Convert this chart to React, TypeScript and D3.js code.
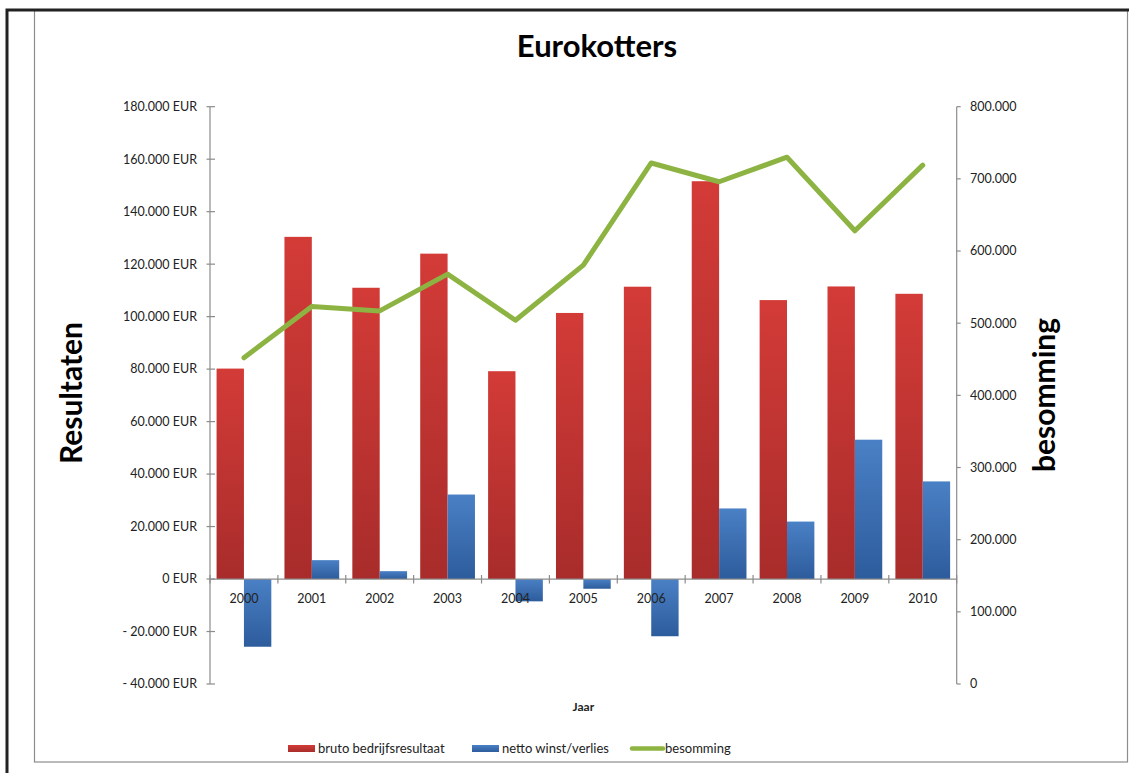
import React from "react";
import * as d3 from "d3";

const years = ["2000","2001","2002","2003","2004","2005","2006","2007","2008","2009","2010"];
const bruto = [80200, 130400, 111000, 124000, 79200, 101400, 111400, 151600, 106300, 111500, 108700];
const netto = [-25800, 7200, 3000, 32200, -8500, -3700, -21800, 26900, 21900, 53100, 37200];
const besomming = [452000, 523000, 517000, 568000, 504000, 580500, 722000, 696000, 730000, 628000, 719000];
const leftTicks = [-40000, -20000, 0, 20000, 40000, 60000, 80000, 100000, 120000, 140000, 160000, 180000];
const rightTicks = [0, 100000, 200000, 300000, 400000, 500000, 600000, 700000, 800000];
const seriesNames = ["bruto bedrijfsresultaat", "netto winst/verlies", "besomming"];

const FONT = "Lato, 'Open Sans', sans-serif";
const AXIS = "#8c8c8c";

function fmt(v: number) {
  const s = Math.abs(v).toString().replace(/\B(?=(\d{3})+(?!\d))/g, ".");
  return s;
}

export default function App() {
  const W = 1129, H = 773;
  const x0 = 210, x1 = 956.7, yTop = 106.7, yBot = 684;
  const x = d3.scaleBand<string>().domain(years).range([x0, x1]).padding(0);
  const inner = d3.scaleBand<number>().domain([0, 1]).range([0, x.bandwidth()]).paddingInner(0).paddingOuter(0.24);
  const yL = d3.scaleLinear().domain([-40000, 180000]).range([yBot, yTop]);
  const yR = d3.scaleLinear().domain([0, 800000]).range([yBot, yTop]);
  const zero = yL(0);
  const line = d3.line<number>()
    .x((_, i) => (x(years[i]) as number) + x.bandwidth() / 2)
    .y((d) => yR(d));

  return (
    <div style={{ position: "absolute", left: 0, top: 0 }}>
      <svg width={W} height={H} style={{ display: "block", fontFamily: FONT }}>
        <defs>
          <linearGradient id="gRed" x1="0" y1="0" x2="0" y2="1">
            <stop offset="0" stopColor="#D33B37" />
            <stop offset="1" stopColor="#A82C2B" />
          </linearGradient>
          <linearGradient id="gBlue" x1="0" y1="0" x2="0" y2="1">
            <stop offset="0" stopColor="#4A80C5" />
            <stop offset="1" stopColor="#2D5C9C" />
          </linearGradient>
        </defs>
        <rect x={0} y={0} width={W} height={H} fill="#fff" />
        <rect x={34.5} y={10.5} width={1093} height={751.5} fill="none" stroke={AXIS} strokeWidth={1.2} />
        <path d={`M7,${H} V10 H${W}`} fill="none" stroke="#222" strokeWidth={3} />

        <text x={597} y={57} textAnchor="middle" fontSize={31} fontWeight="bold" fill="#000">Eurokotters</text>

        {/* bars */}
        {years.map((yr, i) => {
          const bx = x(yr) as number;
          const vb = bruto[i], vn = netto[i];
          return (
            <g key={yr}>
              <rect x={bx + (inner(0) as number)} y={Math.min(yL(vb), zero)} width={inner.bandwidth()}
                height={Math.abs(yL(vb) - zero)} fill="url(#gRed)" />
              <rect x={bx + (inner(1) as number)} y={Math.min(yL(vn), zero)} width={inner.bandwidth()}
                height={Math.abs(yL(vn) - zero)} fill="url(#gBlue)" />
            </g>
          );
        })}

        {/* left axis */}
        <line x1={x0} x2={x0} y1={yTop} y2={yBot} stroke={AXIS} strokeWidth={1.2} />
        {leftTicks.map((t) => (
          <g key={t}>
            <line x1={x0 - 3.5} x2={x0 + 5} y1={yL(t)} y2={yL(t)} stroke={AXIS} strokeWidth={1.2} />
            <text x={197} y={yL(t)} dy="0.35em" textAnchor="end" fontSize={12.5} fill="#222">
              {(t < 0 ? "- " : "") + fmt(t) + " EUR"}
            </text>
          </g>
        ))}

        {/* right axis */}
        <line x1={x1} x2={x1} y1={yTop} y2={yBot} stroke={AXIS} strokeWidth={1.2} />
        {rightTicks.map((t) => (
          <g key={t}>
            <line x1={x1} x2={x1 + 4} y1={yR(t)} y2={yR(t)} stroke={AXIS} strokeWidth={1.2} />
            <text x={970} y={yR(t)} dy="0.35em" textAnchor="start" fontSize={12.5} fill="#222">{fmt(t)}</text>
          </g>
        ))}

        {/* x axis */}
        <line x1={x0} x2={x1} y1={zero} y2={zero} stroke={AXIS} strokeWidth={1.2} />
        {years.map((yr) => (
          <line key={"t" + yr} x1={x(yr) as number} x2={x(yr) as number} y1={zero - 4} y2={zero + 4.5} stroke={AXIS} strokeWidth={1.2} />
        ))}
        <line x1={x1} x2={x1} y1={zero - 4} y2={zero + 4.5} stroke={AXIS} strokeWidth={1.2} />
        {years.map((yr) => (
          <text key={"l" + yr} x={(x(yr) as number) + x.bandwidth() / 2} y={602.5} textAnchor="middle" fontSize={12.5} fill="#222">{yr}</text>
        ))}

        {/* line */}
        <path d={line(besomming) as string} fill="none" stroke="#8DB443" strokeWidth={5} strokeLinejoin="round" strokeLinecap="round" />

        {/* axis titles */}
        <text x={(x0 + x1) / 2} y={711} textAnchor="middle" fontSize={12} fontWeight="bold" fill="#222">Jaar</text>
        <text transform="translate(82,393) rotate(-90)" textAnchor="middle" fontSize={30} fontWeight="bold" fill="#000">Resultaten</text>
        <text transform="translate(1055,395) rotate(-90)" textAnchor="middle" fontSize={30} fontWeight="bold" fill="#000">besomming</text>

        {/* legend */}
        <rect x={288} y={745} width={27} height={7} fill="url(#gRed)" />
        <text x={318} y={748.5} dy="0.35em" fontSize={13} fill="#222">{seriesNames[0]}</text>
        <rect x={472} y={745} width={27} height={7} fill="url(#gBlue)" />
        <text x={502} y={748.5} dy="0.35em" fontSize={13} fill="#222">{seriesNames[1]}</text>
        <line x1={632} x2={663} y1={748.5} y2={748.5} stroke="#8DB443" strokeWidth={4.5} strokeLinecap="round" />
        <text x={665} y={748.5} dy="0.35em" fontSize={13} fill="#222">{seriesNames[2]}</text>
      </svg>
    </div>
  );
}
